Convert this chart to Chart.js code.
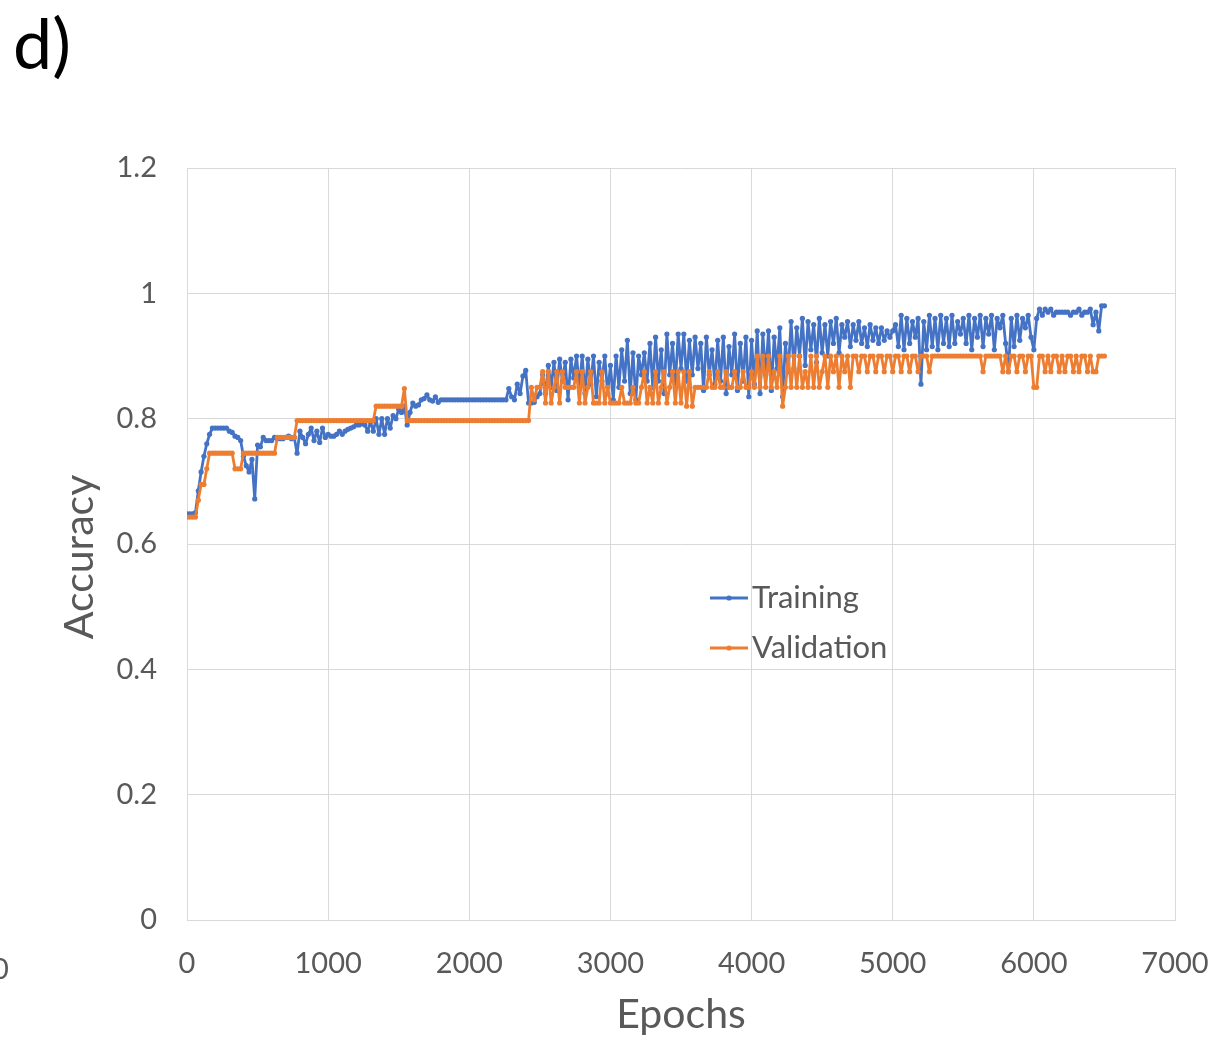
<!DOCTYPE html>
<html><head><meta charset="utf-8">
<script src="https://cdn.jsdelivr.net/npm/chart.js@4.4.1/dist/chart.umd.min.js"></script>
<style>html,body{margin:0;padding:0;background:#fff;overflow:hidden}#wrap{position:relative;width:1216px;height:1040px}</style>
</head><body><div id="wrap"><canvas id="c" width="1216" height="1040"></canvas></div>
<script>
// Epochs sampled every 20 (0..6500)
const epochs = Array.from({length: 326}, (_, i) => i * 20);
const xTicks = [0, 1000, 2000, 3000, 4000, 5000, 6000, 7000];
const yTicks = [0, 0.2, 0.4, 0.6, 0.8, 1, 1.2];
const seriesNames = ['Training', 'Validation'];

const training = [
0.648,0.648,0.648,0.650,0.685,0.715,0.740,0.760,0.775,0.785,
0.785,0.785,0.785,0.785,0.785,0.780,0.778,0.772,0.770,0.765,
0.740,0.725,0.715,0.735,0.672,0.758,0.755,0.770,0.765,0.765,
0.765,0.770,0.768,0.768,0.768,0.770,0.772,0.768,0.770,0.745,
0.780,0.770,0.760,0.775,0.785,0.765,0.780,0.762,0.785,0.770,
0.775,0.772,0.772,0.775,0.780,0.775,0.780,0.783,0.785,0.787,
0.790,0.790,0.792,0.790,0.780,0.795,0.780,0.800,0.775,0.800,
0.775,0.800,0.785,0.805,0.800,0.815,0.810,0.820,0.790,0.810,
0.825,0.820,0.822,0.830,0.832,0.838,0.830,0.828,0.835,0.826,
0.830,0.830,0.830,0.830,0.830,0.830,0.830,0.830,0.830,0.830,
0.830,0.830,0.830,0.830,0.830,0.830,0.830,0.830,0.830,0.830,
0.830,0.830,0.830,0.830,0.848,0.835,0.830,0.855,0.840,0.868,
0.877,0.825,0.825,0.826,0.835,0.840,0.870,0.840,0.885,0.850,
0.890,0.845,0.895,0.860,0.890,0.830,0.895,0.865,0.900,0.850,
0.900,0.840,0.895,0.855,0.900,0.835,0.890,0.860,0.900,0.840,
0.885,0.830,0.900,0.850,0.910,0.860,0.925,0.840,0.905,0.830,
0.900,0.870,0.905,0.860,0.920,0.850,0.930,0.860,0.910,0.840,
0.935,0.870,0.920,0.855,0.935,0.880,0.935,0.860,0.925,0.870,
0.930,0.880,0.920,0.845,0.930,0.870,0.910,0.855,0.925,0.860,
0.930,0.840,0.915,0.870,0.935,0.845,0.920,0.860,0.930,0.835,
0.925,0.855,0.940,0.840,0.935,0.870,0.940,0.845,0.930,0.880,
0.945,0.835,0.920,0.875,0.955,0.880,0.945,0.900,0.960,0.885,
0.955,0.910,0.950,0.890,0.960,0.905,0.950,0.900,0.955,0.920,
0.960,0.905,0.950,0.930,0.955,0.915,0.950,0.925,0.955,0.920,
0.945,0.915,0.950,0.925,0.945,0.920,0.945,0.925,0.940,0.930,
0.940,0.950,0.915,0.965,0.910,0.960,0.920,0.955,0.930,0.960,
0.855,0.955,0.910,0.965,0.915,0.960,0.910,0.965,0.920,0.960,
0.915,0.965,0.920,0.955,0.935,0.960,0.920,0.965,0.910,0.960,
0.930,0.965,0.915,0.960,0.935,0.965,0.910,0.960,0.945,0.965,
0.920,0.875,0.960,0.915,0.965,0.925,0.960,0.945,0.965,0.930,
0.910,0.960,0.975,0.965,0.975,0.970,0.975,0.965,0.970,0.970,
0.970,0.970,0.970,0.965,0.970,0.970,0.975,0.965,0.970,0.970,
0.975,0.950,0.970,0.940,0.980,0.980
];

const validation = [
0.643,0.643,0.643,0.643,0.670,0.695,0.695,0.720,0.745,0.745,
0.745,0.745,0.745,0.745,0.745,0.745,0.745,0.720,0.720,0.720,
0.745,0.745,0.745,0.745,0.745,0.745,0.745,0.745,0.745,0.745,
0.745,0.745,0.770,0.770,0.770,0.770,0.770,0.770,0.770,0.797,
0.797,0.797,0.797,0.797,0.797,0.797,0.797,0.797,0.797,0.797,
0.797,0.797,0.797,0.797,0.797,0.797,0.797,0.797,0.797,0.797,
0.797,0.797,0.797,0.797,0.797,0.797,0.797,0.820,0.820,0.820,
0.820,0.820,0.820,0.820,0.820,0.820,0.820,0.848,0.797,0.797,
0.797,0.797,0.797,0.797,0.797,0.797,0.797,0.797,0.797,0.797,
0.797,0.797,0.797,0.797,0.797,0.797,0.797,0.797,0.797,0.797,
0.797,0.797,0.797,0.797,0.797,0.797,0.797,0.797,0.797,0.797,
0.797,0.797,0.797,0.797,0.797,0.797,0.797,0.797,0.797,0.797,
0.797,0.797,0.850,0.830,0.850,0.850,0.875,0.825,0.875,0.825,
0.850,0.875,0.825,0.875,0.850,0.850,0.850,0.850,0.875,0.825,
0.875,0.825,0.850,0.875,0.825,0.825,0.825,0.875,0.825,0.850,
0.825,0.825,0.825,0.825,0.850,0.825,0.825,0.825,0.850,0.825,
0.825,0.850,0.875,0.825,0.850,0.825,0.875,0.825,0.850,0.875,
0.825,0.850,0.875,0.825,0.875,0.825,0.875,0.820,0.875,0.820,
0.850,0.850,0.850,0.850,0.850,0.875,0.850,0.850,0.875,0.850,
0.850,0.875,0.850,0.850,0.875,0.850,0.850,0.875,0.850,0.850,
0.875,0.850,0.900,0.850,0.900,0.850,0.900,0.850,0.875,0.850,
0.900,0.820,0.850,0.900,0.850,0.900,0.850,0.900,0.850,0.875,
0.850,0.900,0.850,0.900,0.850,0.875,0.900,0.850,0.900,0.875,
0.900,0.850,0.900,0.875,0.900,0.850,0.900,0.900,0.875,0.900,
0.900,0.875,0.900,0.900,0.875,0.900,0.900,0.875,0.900,0.900,
0.875,0.900,0.900,0.875,0.900,0.900,0.875,0.900,0.900,0.875,
0.900,0.900,0.900,0.875,0.900,0.900,0.900,0.900,0.900,0.900,
0.900,0.900,0.900,0.900,0.900,0.900,0.900,0.900,0.900,0.900,
0.900,0.900,0.875,0.900,0.900,0.900,0.900,0.900,0.900,0.875,
0.900,0.875,0.900,0.900,0.875,0.900,0.900,0.875,0.900,0.900,
0.850,0.850,0.900,0.900,0.875,0.900,0.875,0.900,0.900,0.875,
0.900,0.875,0.900,0.900,0.875,0.900,0.875,0.900,0.900,0.875,
0.900,0.875,0.875,0.900,0.900,0.900
];

const BLUE = '#4472C4', ORANGE = '#ED7D31', TEXT = '#595959', GRID = '#d9d9d9';
const FONT = 'Lato, "Open Sans", sans-serif';

const toPts = arr => arr.map((v, i) => ({x: epochs[i], y: v}));

const overlay = {
  id: 'overlay',
  afterDraw(chart) {
    const ctx = chart.ctx;
    ctx.save();
    ctx.fillStyle = '#000';
    ctx.font = '70px ' + FONT;
    ctx.textAlign = 'left'; ctx.textBaseline = 'alphabetic';
    ctx.fillText('d)', 13, 69);

    ctx.fillStyle = TEXT;
    ctx.font = '29px ' + FONT;
    ctx.textBaseline = 'middle';
    ctx.fillText('0', -8, 970);

    // axis titles
    ctx.font = '41px ' + FONT;
    ctx.textAlign = 'center';
    ctx.fillText('Epochs', (chart.chartArea.left + chart.chartArea.right) / 2, 1015);
    ctx.save();
    ctx.translate(80, 557);
    ctx.rotate(-Math.PI / 2);
    ctx.fillText('Accuracy', 0, 0);
    ctx.restore();

    // legend
    const items = [[seriesNames[0], BLUE, 598], [seriesNames[1], ORANGE, 648]];
    ctx.font = '31px ' + FONT;
    ctx.textAlign = 'left';
    items.forEach(([name, col, y]) => {
      ctx.strokeStyle = col; ctx.lineWidth = 2.8;
      ctx.beginPath(); ctx.moveTo(710, y); ctx.lineTo(748, y); ctx.stroke();
      ctx.fillStyle = col;
      ctx.beginPath(); ctx.arc(729, y, 2.6, 0, Math.PI * 2); ctx.fill();
      ctx.fillStyle = TEXT;
      ctx.fillText(name, 752, y);
    });
    ctx.restore();
  }
};

new Chart(document.getElementById('c'), {
  type: 'line',
  data: {
    datasets: [
      {label: seriesNames[0], data: toPts(training), borderColor: BLUE, backgroundColor: BLUE,
       borderWidth: 2.8, borderJoinStyle: 'round', borderCapStyle: 'round',
       pointRadius: 2.6, pointBorderWidth: 0, pointBackgroundColor: BLUE, tension: 0, order: 2},
      {label: seriesNames[1], data: toPts(validation), borderColor: ORANGE, backgroundColor: ORANGE,
       borderWidth: 2.8, borderJoinStyle: 'round', borderCapStyle: 'round',
       pointRadius: 2.6, pointBorderWidth: 0, pointBackgroundColor: ORANGE, tension: 0, order: 1}
    ]
  },
  options: {
    responsive: false, animation: false, devicePixelRatio: 1,
    layout: {padding: {top: 168, right: 41, left: 0, bottom: 0}},
    plugins: {legend: {display: false}, tooltip: {enabled: false}},
    scales: {
      x: {
        type: 'linear', min: xTicks[0], max: xTicks[xTicks.length - 1],
        afterBuildTicks: s => { s.ticks = xTicks.map(v => ({value: v})); },
        ticks: {color: TEXT, font: {family: FONT, size: 29}, padding: 26, maxRotation: 0, autoSkip: false,
                callback: v => String(v)},
        grid: {color: GRID, lineWidth: 1, drawTicks: false},
        border: {display: true, color: GRID, width: 1},
        afterFit: s => { s.height = 120; s.paddingLeft = 0; s.paddingRight = 0; }
      },
      y: {
        min: yTicks[0], max: yTicks[yTicks.length - 1],
        afterBuildTicks: s => { s.ticks = yTicks.map(v => ({value: v})); },
        ticks: {color: TEXT, font: {family: FONT, size: 29}, padding: 30, autoSkip: false,
                callback: v => String(Math.round(v * 10) / 10)},
        grid: {color: GRID, lineWidth: 1, drawTicks: false},
        border: {display: true, color: GRID, width: 1},
        afterFit: s => { s.width = 187; s.paddingTop = 0; s.paddingBottom = 0; }
      }
    }
  },
  plugins: [overlay]
});
</script></body></html>
